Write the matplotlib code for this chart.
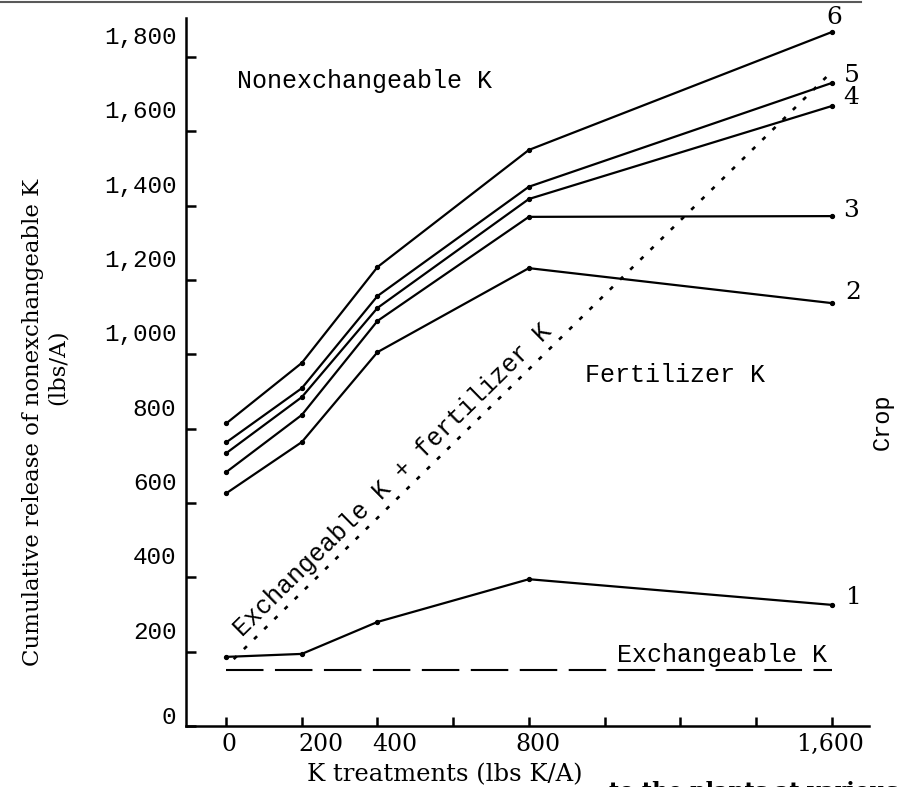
import matplotlib.pyplot as plt
import matplotlib.transforms as mtransforms
from matplotlib.lines import Line2D

# ===== DADOS =====
k_rate = [0, 200, 400, 800, 1600]
crop_1 = [186, 194, 280, 395, 326]
crop_2 = [626, 764, 1006, 1232, 1138]
crop_3 = [683, 837, 1090, 1370, 1372]
crop_4 = [734, 885, 1125, 1418, 1668]
crop_5 = [763, 909, 1157, 1451, 1730]
crop_6 = [814, 977, 1235, 1550, 1867]
crop_names = ["1", "2", "3", "4", "5", "6"]

exch_x = [0, 1600]
exch_y = [151, 151]
exch_fert_x = [20, 1600]
exch_fert_y = [180, 1760]

x_ticks = [0, 200, 400, 600, 800, 1000, 1200, 1400, 1600]
x_tick_labels = ["0", "200", "400", "", "800", "", "", "", "1,600"]
y_ticks = [0, 200, 400, 600, 800, 1000, 1200, 1400, 1600, 1800]
y_tick_labels = ["0", "200", "400", "600", "800", "1,000", "1,200",
                 "1,400", "1,600", "1,800"]

# ===== FONTES =====
mono = "Liberation Mono"
serif = "DejaVu Serif"

# ===== GRÁFICO =====
fig = plt.figure(figsize=(8.97, 7.87), dpi=100)
ax = fig.add_axes([0.2074, 0.0775, 0.7614, 0.8996])

crops = [crop_1, crop_2, crop_3, crop_4, crop_5, crop_6]
for vals in crops:
    ax.plot(k_rate, vals, color="black", lw=1.6, marker="o", ms=2.8,
            solid_joinstyle="miter")

ax.plot(exch_x, exch_y, color="black", lw=1.5, ls=(0, (18, 5.5)))
ax.plot(exch_fert_x, exch_fert_y, color="black", lw=1.9, ls=(0, (1.6, 3.8)))

# rótulos das culturas no fim das linhas
label_offsets = [(22, 7), (22, 11), (20, 6), (20, 9), (20, 8), (3, 15)]
for name, vals, off in zip(crop_names, crops, label_offsets):
    ax.annotate(name, (k_rate[-1], vals[-1]), xytext=off,
                textcoords="offset pixels", ha="center", va="center",
                fontsize=18, family=serif, annotation_clip=False)

ax.text(1734, 820, "Crop", rotation=90, ha="center", va="center",
        fontsize=17, family=mono)

ax.text(29, 1735, "Nonexchangeable K", ha="left", va="center",
        fontsize=18, family=mono)
ax.text(949, 944, "Fertilizer K", ha="left", va="center",
        fontsize=18, family=mono)
ax.text(1589, 191, "Exchangeable K", ha="right", va="center",
        fontsize=18, family=mono)
ax.text(440, 662, "Exchangeable K + fertilizer K", rotation=44.5,
        ha="center", va="center", fontsize=18, family=mono,
        rotation_mode="anchor")

# ===== EIXOS =====
ax.set_xlim(-106, 1699)
ax.set_ylim(0, 1905)
for s in ["top", "right"]:
    ax.spines[s].set_visible(False)
for s in ["left", "bottom"]:
    ax.spines[s].set_linewidth(1.8)

ax.set_xticks(x_ticks, labels=x_tick_labels)
ax.set_yticks(y_ticks, labels=y_tick_labels)
ax.tick_params(axis="both", direction="in", width=1.8)
ax.tick_params(axis="x", length=6.5, pad=5, labelsize=17)
ax.tick_params(axis="y", length=7.2, pad=7, labelsize=17.5)
for lab in ax.get_xticklabels():
    lab.set_family(serif)
for lab in ax.get_yticklabels():
    lab.set_family(mono)

# deslocamento dos rótulos (como no original datilografado)
x_shift = {"0": 3, "200": 19, "400": 17, "800": 9, "1,600": -1}
for lab in ax.get_xticklabels():
    dx = x_shift.get(lab.get_text(), 0) / 100
    lab.set_transform(lab.get_transform() +
                      mtransforms.ScaledTranslation(dx, 0, fig.dpi_scale_trans))
for lab in ax.get_yticklabels():
    dy = 0.11 if lab.get_text() == "0" else 0.22
    lab.set_transform(lab.get_transform() +
                      mtransforms.ScaledTranslation(0, dy, fig.dpi_scale_trans))

ax.set_xlabel("K treatments (lbs K/A)", fontsize=17.5, family=serif)
ax.xaxis.set_label_coords(0.379, -0.053)

# rótulo do eixo y em duas linhas, como no original
ax.text(-0.2240, 0.429, "Cumulative release of nonexchangeable K",
        transform=ax.transAxes, rotation=90, ha="center", va="center",
        fontsize=16.5, family=serif)
ax.text(-0.1880, 0.507, "(lbs/A)", transform=ax.transAxes, rotation=90,
        ha="center", va="center", fontsize=16.5, family=serif)

# linha de borda no topo e legenda cortada da página
fig.add_artist(Line2D([0, 0.96], [0.997, 0.997], color="0.35", lw=1.5))
fig.text(1.001, -0.014, "to the plants at various", ha="right",
         va="baseline", fontsize=16, family=serif, weight="bold")

# ===== SALVAR =====
fig.savefig("out.png", dpi=100)
